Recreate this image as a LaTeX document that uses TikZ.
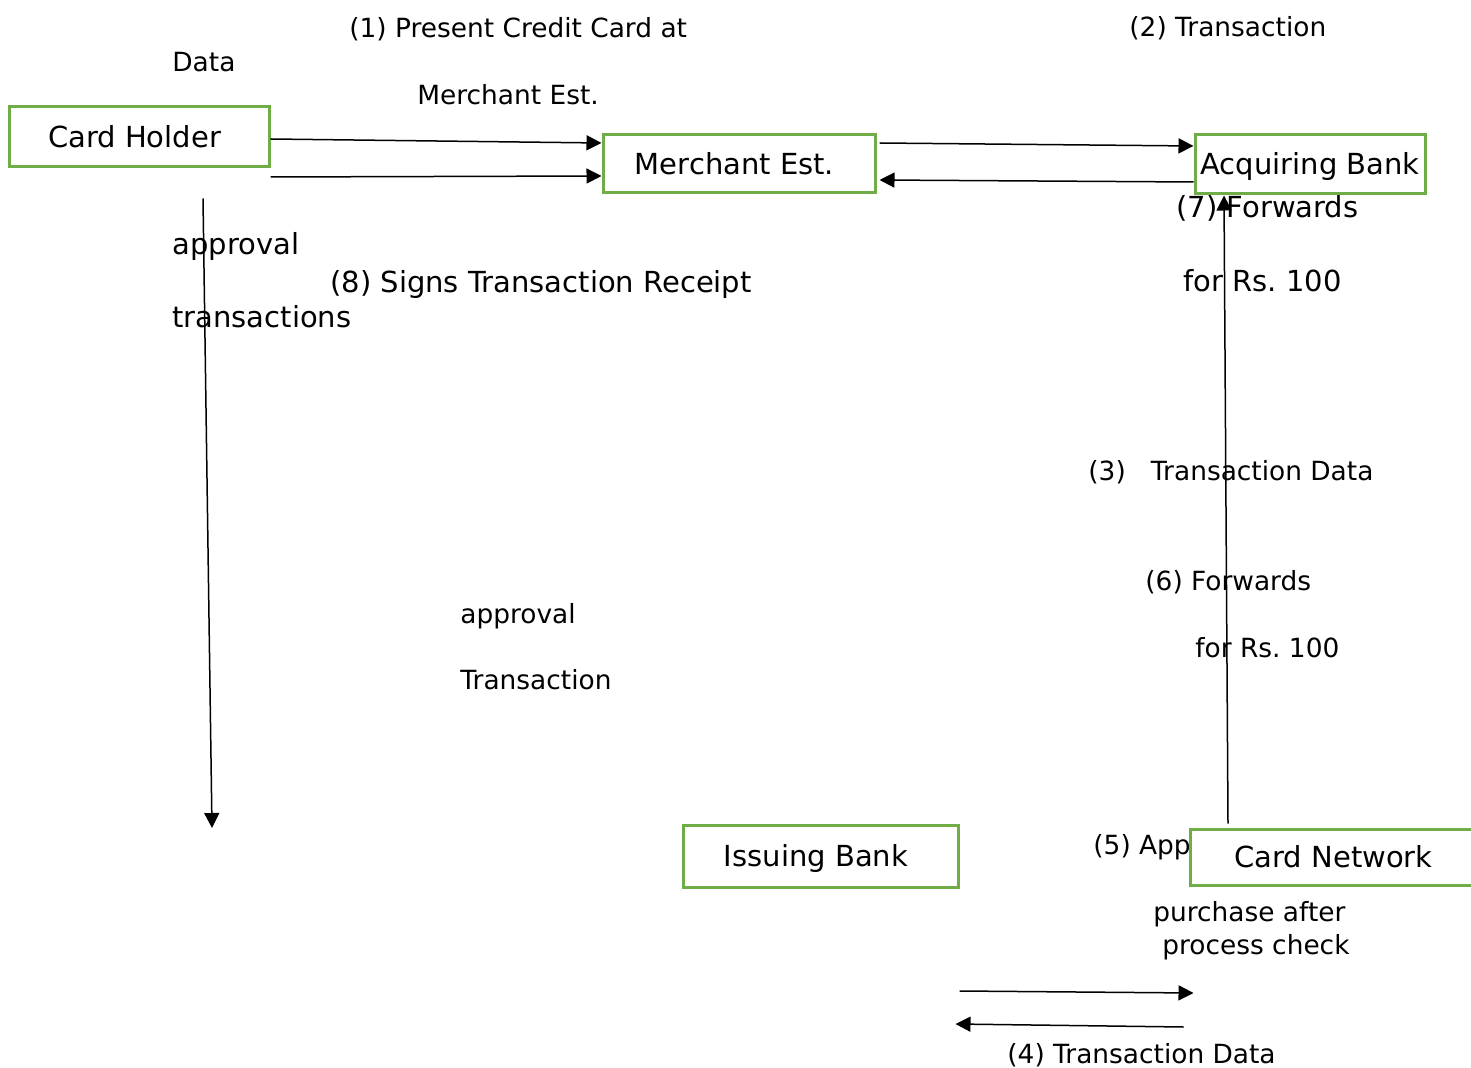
\documentclass[tikz,border=0pt]{standalone}
\usepackage{fontspec}
\setmainfont{DejaVu Sans}
\usepackage[usenames]{xcolor}
\usepackage{tikz}
\usetikzlibrary{
  calc,
  arrows.meta
}
\frenchspacing
\definecolor{boxgreen}{RGB}{112,173,71}
\tikzset{
  party/.style = {draw=boxgreen, line width=1.5pt, fill=white, inner sep=0pt,
    text height=10.5pt, text depth=0pt, font=\fontsize{14.5}{17}\selectfont},
  offleft/.style = {execute at end node=\hspace*{4.5pt}},
  lbl/.style = {anchor=base west, inner sep=0pt, yshift=-0.75pt, font=\fontsize{13.2}{16}\selectfont},
  biglbl/.style = {anchor=base west, inner sep=0pt, font=\fontsize{14.5}{17}\selectfont},
  flow/.style = {line width=0.75pt, -{Triangle[length=7.5pt,width=7.5pt]}}
}

\begin{document}
\begin{tikzpicture}[x=0.5pt, y=-0.5pt]
\useasboundingbox (0,0) rectangle (1471,1068);
\clip (0,0) rectangle (1471,1068);

% labels
\node[lbl] (step1) at (349,36) {(1) Present Credit Card at};
\node[lbl] (data) at (172,70) {Data};
\node[lbl] (step1b) at (417,103) {Merchant Est.};
\node[lbl] (step2) at (1129,35) {(2) Transaction};
\node[biglbl] (step7) at (1176,218) {(7) Forwards};
\node[biglbl] (step7b) at (1183,292) {for Rs. 100};
\node[biglbl] (appr) at (172,255) {approval};
\node[biglbl] (step8) at (330,293) {(8) Signs Transaction Receipt};
\node[biglbl] (trans) at (172,328) {transactions};
\node[lbl] (step3) at (1088,479) {(3)~~~Transaction Data};
\node[lbl] (step6) at (1145,589) {(6) Forwards};
\node[lbl] (step6b) at (1195,656) {for Rs. 100};
\node[lbl] (apprb) at (460,622) {approval};
\node[lbl] (transb) at (460,688) {Transaction};
\node[lbl] (step5) at (1093,853) {(5) App};
\node[lbl] (step5b) at (1153,920) {purchase after};
\node[lbl] (step5c) at (1162,953) {process check};
\node[lbl] (step4) at (1007,1062) {(4) Transaction Data};

% parties
\node[party, offleft, minimum width=130pt, minimum height=30pt] (ch) at (139,137) {Card Holder};
\node[party, offleft, minimum width=136pt, minimum height=29pt] (me) at (739,164) {Merchant Est.};
\node[party, minimum width=115pt, minimum height=29.5pt] (ab) at (1310,164.5) {Acquiring Bank};
\node[party, offleft, minimum width=137.5pt, minimum height=31pt] (ib) at (820.5,856) {Issuing Bank};
\node[party, minimum width=143.5pt, minimum height=28pt] (cn) at (1333.5,857) {Card Network};

% arrows
\coordinate (down) at (212,828);
\draw[flow] ([yshift=-1pt]ch.east) -- ([yshift=10.5pt]me.west);
\draw[flow] ([yshift=-20pt]ch.east) -- ([yshift=-6pt]me.west);
\draw[flow] ([xshift=1.5pt,yshift=10.5pt]me.east) -- ([yshift=9.25pt]ab.west);
\draw[flow] ([yshift=-8.75pt]ab.west) -- ([xshift=1.5pt,yshift=-8pt]me.east);
\draw[flow] ([xshift=32pt,yshift=-15pt]ch.south) -- (down);
\draw[flow] ([xshift=-52.75pt,yshift=2pt]cn.north) -- ([xshift=-43pt]ab.south);
\draw[flow] ([yshift=-67.5pt]ib.east) -- ([xshift=2.5pt,yshift=-68pt]cn.west);
\draw[flow] ([xshift=-2.5pt,yshift=-85pt]cn.west) -- ([xshift=-2pt,yshift=-84pt]ib.east);

\end{tikzpicture}
\end{document}
